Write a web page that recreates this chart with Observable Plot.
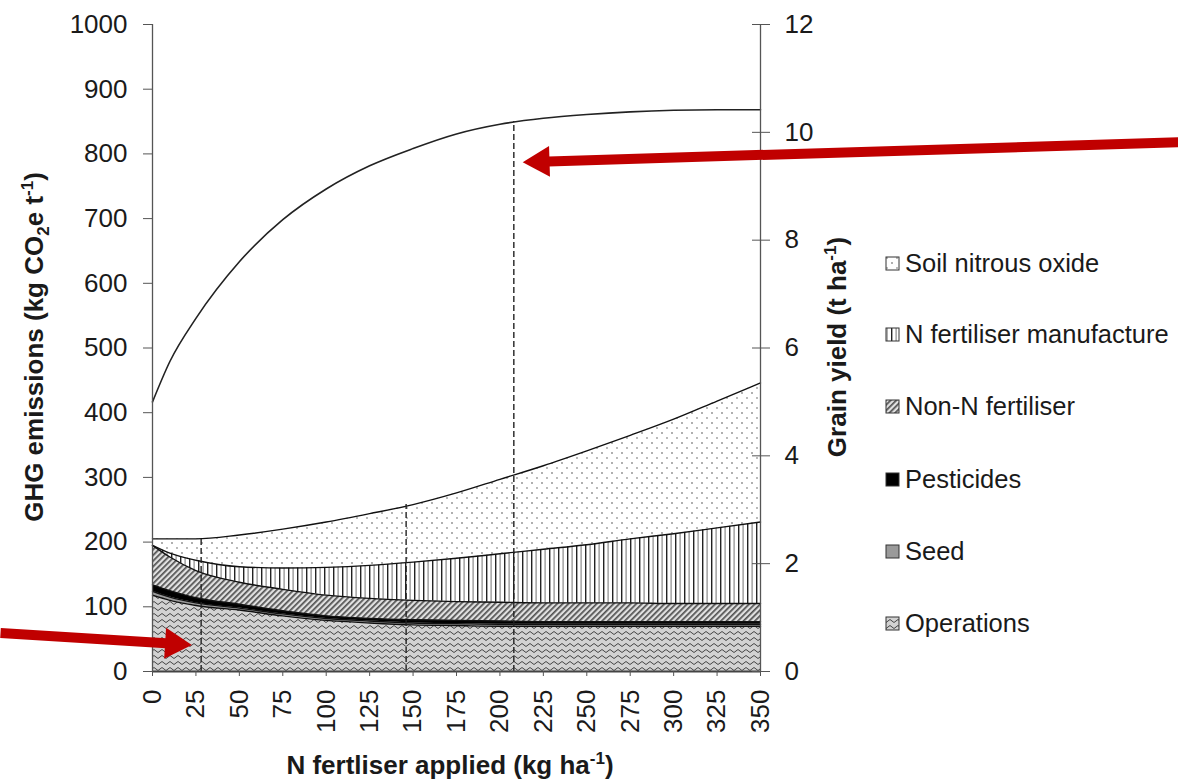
<!DOCTYPE html>
<html><head><meta charset="utf-8">
<script src="https://cdn.jsdelivr.net/npm/d3@7"></script>
<script src="https://cdn.jsdelivr.net/npm/@observablehq/plot@0.6"></script>
<style>
html,body{margin:0;padding:0;background:#fff;}
#chart{position:relative;width:1178px;height:782px;}
</style></head><body><div id="chart"></div>
<script>
// ---------- data ----------
const nApplied = [0,10,25,50,75,100,125,150,175,200,225,250,275,300,325,350];
const seriesNames = ["Operations","Seed","Pesticides","Non-N fertiliser","N fertiliser manufacture","Soil nitrous oxide"];
const operations   = [118,110,102,95,86,79,75,72,71,70,70,70,70,70,70,70];
const seed         = [6,5,4,3,3,3,3,3,3,3,3,3,3,3,3,3];
const pesticides   = [10,10,8,6,5,4,4,5,5,5,4,4,4,4,4,4];
const nonNFert     = [61,52,42,34,33,32,31,30,29,29,29,29,29,28,28,28];
const nFertManuf   = [0,6,16,24,33,43,51,59,67,75,83,90,99,108,117,126];
const soilN2O      = [10,22,33,49,60,70,80,89,101,115,129,145,160,177,196,215];
const grainYield   = [5.0,5.75,6.55,7.6,8.38,8.95,9.38,9.7,9.97,10.15,10.26,10.33,10.38,10.41,10.42,10.42];
const xTicks = [0,25,50,75,100,125,150,175,200,225,250,275,300,325,350];
const ghgTicks = [0,100,200,300,400,500,600,700,800,900,1000];
const yieldTicks = [0,2,4,6,8,10,12];
const ghgMax = 1000, yieldMax = 12, nMax = 350;
const dashN   = [28,146,208];
const dashTop = [205,258,850];
// annotation arrows (data space): start, head centre, head rotation
const arrowX1 = [590.6,-87.5];
const arrowY1 = [818,59.5];
const arrowX2 = [223.4,12.4];
const arrowY2 = [788,42.8];
const arrowRot = [-91.75,93.7];

// ---------- tables ----------
const seriesValues = [operations,seed,pesticides,nonNFert,nFertManuf,soilN2O];
const rows = [];
seriesNames.forEach((s,i)=> nApplied.forEach((n,j)=> rows.push({N:n, series:s, value:seriesValues[i][j]})));
const factor = ghgMax / yieldMax;
const yieldRows = nApplied.map((n,i)=>({N:n, yield:grainYield[i]}));
const dashRows = dashN.map((n,i)=>({N:n, top:dashTop[i]}));
const arrows = arrowX1.map((x,i)=>({x1:x, y1:arrowY1[i], x2:arrowX2[i], y2:arrowY2[i], rot:arrowRot[i]}));
const patternIds = ["p-ops","p-seed","p-pest","p-nonn","p-nfert","p-soil"];
const fills = patternIds.map(id=>`url(#${id})`);
const red = "#c00000";
const font = "Liberation Sans, Arial, Helvetica, sans-serif";

const plot = Plot.plot({
  width: 1178, height: 782,
  marginLeft: 152, marginRight: 418, marginTop: 24, marginBottom: 111,
  style: {fontFamily: font, fontSize: "26px", color: "#1a1a1a", background: "white", overflow: "visible"},
  x: {domain: [0, nMax]},
  y: {domain: [0, ghgMax]},
  color: {domain: seriesNames, range: fills},
  marks: [
    Plot.areaY(rows, {x: "N", y: "value", z: "series", fill: "series", order: seriesNames, curve: "monotone-x"}),
    Plot.lineY(rows, Plot.stackY2({x: "N", y: "value", z: "series", order: seriesNames, curve: "monotone-x", stroke: "#111", strokeWidth: 1.4})),
    Plot.ruleX(dashRows, {x: "N", y1: 0, y2: "top", stroke: "#222", strokeWidth: 1.4, strokeDasharray: "6,3"}),
    Plot.lineY(yieldRows, {x: "N", y: d => d.yield * factor, curve: "monotone-x", stroke: "#222", strokeWidth: 1.6}),
    Plot.ruleY([0], {stroke: "#444", strokeWidth: 2}),
    Plot.ruleX([0], {stroke: "#555", strokeWidth: 1.3}),
    Plot.ruleX([nMax], {stroke: "#555", strokeWidth: 1.3}),
    Plot.axisX({ticks: xTicks, tickFormat: d3.format("d"), tickRotate: -90, tickSize: 5, tickPadding: 13, label: null, fontSize: 26, stroke: "#555"}),
    Plot.axisY({anchor: "left", ticks: ghgTicks, tickFormat: d3.format("d"), tickSize: 9, tickPadding: 16, label: null, fontSize: 26, stroke: "#555"}),
    Plot.axisY({anchor: "right", ticks: yieldTicks.map(v => v * factor), tickFormat: d => String(Math.round(d / factor)), tickSize: 18, tickPadding: 15, dx: -9, label: null, fontSize: 26, stroke: "#555"}),
    Plot.link(arrows, {x1: "x1", y1: "y1", x2: "x2", y2: "y2", stroke: red, strokeWidth: 10}),
    Plot.dot(arrows, {x: "x2", y: "y2", symbol: "triangle", r: 11.5, rotate: "rot", fill: red, stroke: "none"})
  ]
});

// ---------- patterns, titles, legend ----------
const NS = "http://www.w3.org/2000/svg";
const defs = document.createElementNS(NS, "defs");
defs.innerHTML = `
<pattern id="p-soil" patternUnits="userSpaceOnUse" width="10" height="10">
  <rect width="10" height="10" fill="#fff"/>
  <circle cx="2" cy="3" r="0.9" fill="#8a8a8a"/>
  <circle cx="7" cy="8" r="0.9" fill="#9a9a9a"/>
</pattern>
<pattern id="p-nfert" patternUnits="userSpaceOnUse" width="9" height="10">
  <rect width="9" height="10" fill="#fff"/>
  <rect x="0" y="0" width="1.4" height="10" fill="#222"/>
  <rect x="4.5" y="0" width="1.2" height="10" fill="#8a8a8a"/>
</pattern>
<pattern id="p-nonn" patternUnits="userSpaceOnUse" width="4" height="4" patternTransform="rotate(45)">
  <rect width="4" height="4" fill="#e0e0e0"/>
  <rect x="0" y="0" width="1.7" height="4" fill="#505050"/>
</pattern>
<pattern id="p-pest" patternUnits="userSpaceOnUse" width="4" height="4">
  <rect width="4" height="4" fill="#000"/>
</pattern>
<pattern id="p-seed" patternUnits="userSpaceOnUse" width="4" height="4">
  <rect width="4" height="4" fill="#9a9a9a"/>
</pattern>
<pattern id="p-ops" patternUnits="userSpaceOnUse" width="8" height="6">
  <rect width="8" height="6" fill="#d2d2d2"/>
  <path d="M0 3 Q2 0 4 3 T8 3" fill="none" stroke="#444" stroke-width="1"/>
</pattern>`;
plot.insertBefore(defs, plot.firstChild);

function addText(parts, attrs) {
  const t = document.createElementNS(NS, "text");
  for (const k in attrs) t.setAttribute(k, attrs[k]);
  parts.forEach(p => {
    const s = document.createElementNS(NS, "tspan");
    s.textContent = p.t;
    if (p.dy) s.setAttribute("dy", p.dy);
    if (p.fs) s.setAttribute("font-size", p.fs);
    t.appendChild(s);
  });
  plot.appendChild(t);
  return t;
}
const titleAttrs = {"font-family": font, "font-size": 26, "font-weight": "bold", fill: "#1a1a1a", "text-anchor": "middle"};
addText([{t:"GHG emissions (kg CO"},{t:"2",fs:17,dy:6},{t:"e t",dy:-6},{t:"-1",fs:17,dy:-10},{t:")",dy:10}],
  Object.assign({transform: "translate(43,347) rotate(-90)"}, titleAttrs));
addText([{t:"Grain yield (t ha"},{t:"-1",fs:17,dy:-10},{t:")",dy:10}],
  Object.assign({transform: "translate(846,347) rotate(-90)"}, titleAttrs));
addText([{t:"N fertliser applied (kg ha"},{t:"-1",fs:17,dy:-10},{t:")",dy:10}],
  Object.assign({x: 450, y: 774}, titleAttrs));

const legendY = [263,334,406,479,551,623];
const legendOrder = ["Soil nitrous oxide","N fertiliser manufacture","Non-N fertiliser","Pesticides","Seed","Operations"];
legendOrder.forEach((name, i) => {
  const r = document.createElementNS(NS, "rect");
  r.setAttribute("x", 886); r.setAttribute("y", legendY[i] - 6);
  r.setAttribute("width", 13); r.setAttribute("height", 13);
  r.setAttribute("fill", fills[seriesNames.indexOf(name)]);
  r.setAttribute("stroke", "#333"); r.setAttribute("stroke-width", 1);
  plot.appendChild(r);
  addText([{t:name}], {x: 905, y: legendY[i] + 9, "font-family": font, "font-size": 25.5, fill: "#1a1a1a", "text-anchor": "start"});
});

document.getElementById("chart").appendChild(plot);
</script></body></html>
